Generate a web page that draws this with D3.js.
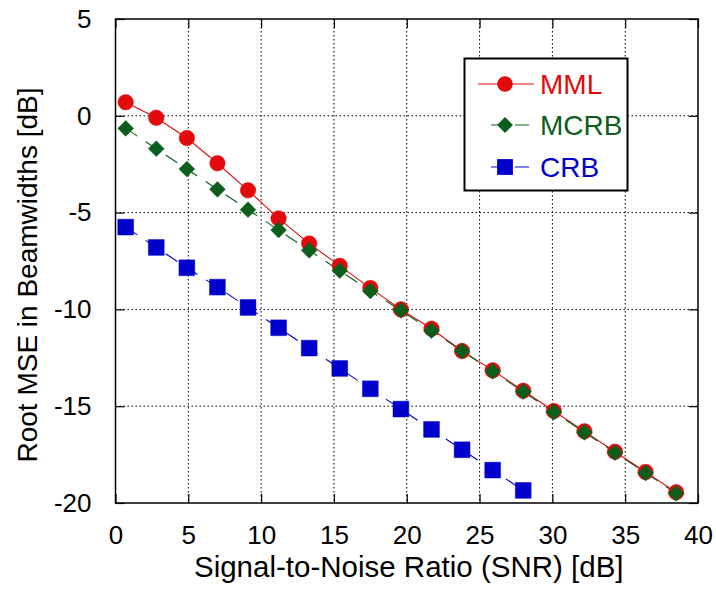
<!DOCTYPE html>
<html><head><meta charset="utf-8">
<script src="https://cdn.jsdelivr.net/npm/d3@7"></script>
<style>body{margin:0;background:#fff}svg{display:block}</style>
</head><body><svg id="c" width="716" height="590"></svg>
<script>
const snr  = [0.7, 2.8, 4.9, 7.0, 9.1, 11.2, 13.3, 15.4, 17.5, 19.6, 21.7, 23.8, 25.9, 28.0, 30.1, 32.2, 34.3, 36.4, 38.5];
const mml  = [0.7, -0.1, -1.15, -2.45, -3.85, -5.3, -6.6, -7.75, -8.9, -10.0, -11.0, -12.15, -13.15, -14.2, -15.25, -16.3, -17.35, -18.4, -19.45];
const mcrb = [-0.65, -1.7, -2.75, -3.8, -4.85, -5.9, -6.95, -8.0, -9.05, -10.05, -11.1, -12.15, -13.2, -14.25, -15.3, -16.35, -17.4, -18.45, -19.5];
const crbSnr = [0.7, 2.8, 4.9, 7.0, 9.1, 11.2, 13.3, 15.4, 17.5, 19.6, 21.7, 23.8, 25.9, 28.0];
const crb  = [-5.75, -6.8, -7.85, -8.85, -9.9, -10.95, -12.0, -13.05, -14.1, -15.15, -16.2, -17.25, -18.3, -19.35];
const xTicks = [0, 5, 10, 15, 20, 25, 30, 35, 40];
const yTicks = [5, 0, -5, -10, -15, -20];
const seriesNames = ["MML", "MCRB", "CRB"];
const seriesColors = ["#e20a0a", "#0b5e1b", "#0000cc"];

const svg = d3.select("#c");
const L = 115.5, R = 698, T = 19, B = 503;
const x = d3.scaleLinear().domain([0, 40]).range([L, R]);
const y = d3.scaleLinear().domain([-20, 5]).range([B, T]);
const FONT = "Liberation Sans, Arial, sans-serif";
const fmt = d => String(d);

// grid
const g = svg.append("g");
g.selectAll(".vg").data(xTicks.filter(d => d > 0 && d < 40)).enter().append("line")
  .attr("x1", d => x(d)).attr("x2", d => x(d)).attr("y1", T).attr("y2", B)
  .attr("stroke", "#000").attr("stroke-width", 1).attr("stroke-dasharray", "1.5,2.5");
g.selectAll(".hg").data(yTicks.filter(d => d > -20 && d < 5)).enter().append("line")
  .attr("y1", d => y(d)).attr("y2", d => y(d)).attr("x1", L).attr("x2", R)
  .attr("stroke", "#000").attr("stroke-width", 1).attr("stroke-dasharray", "1.5,2.5");

// axes
const tk = 9;
const xb = svg.append("g").attr("transform", `translate(0,${B})`)
  .call(d3.axisBottom(x).tickValues(xTicks).tickSize(-tk).tickPadding(tk + 14).tickFormat(fmt));
const xt = svg.append("g").attr("transform", `translate(0,${T})`)
  .call(d3.axisTop(x).tickValues(xTicks).tickSize(-tk).tickFormat(""));
const yl = svg.append("g").attr("transform", `translate(${L},0)`)
  .call(d3.axisLeft(y).tickValues(yTicks).tickSize(-tk).tickPadding(tk + 15).tickFormat(fmt));
const yr = svg.append("g").attr("transform", `translate(${R},0)`)
  .call(d3.axisRight(y).tickValues(yTicks).tickSize(-tk).tickFormat(""));
[xb, xt, yl, yr].forEach(a => {
  a.select(".domain").remove();
  a.selectAll("line").attr("stroke", "#000").attr("stroke-width", 1.2);
  a.selectAll("text").attr("font-family", FONT).attr("font-size", 26).attr("fill", "#000");
});
xb.selectAll("text").attr("dy", "0.71em");

// frame
svg.append("rect").attr("x", L).attr("y", T).attr("width", R - L).attr("height", B - T)
  .attr("fill", "none").attr("stroke", "#000").attr("stroke-width", 1.5);

// lines
const line = d3.line().x(d => x(d[0])).y(d => y(d[1]));
const mmlPts = snr.map((s, i) => [s, mml[i]]);
const mcrbPts = snr.map((s, i) => [s, mcrb[i]]);
const crbPts = crbSnr.map((s, i) => [s, crb[i]]);

const dashes = [null, "14,10", "14,10"];
const pts = [mmlPts, mcrbPts, crbPts];

const symT = [d3.symbolCircle, d3.symbolSquare, d3.symbolSquare];
const symSize = [190, 125, 250];
const symRot = [0, 45, 0];

pts.forEach((p, k) => {
  svg.append("path").datum(p).attr("d", line).attr("fill", "none")
    .attr("stroke", seriesColors[k]).attr("stroke-width", 1.1)
    .attr("stroke-dasharray", dashes[k]);
});
pts.forEach((p, k) => {
  svg.selectAll(".m" + k).data(p).enter().append("path")
    .attr("transform", d => `translate(${x(d[0])},${y(d[1])}) rotate(${symRot[k]})`)
    .attr("d", d3.symbol().type(symT[k]).size(symSize[k]))
    .attr("fill", seriesColors[k]).attr("stroke", seriesColors[k]).attr("stroke-width", 0.8)
    .attr("stroke-opacity", 0.6);
});

// legend
const lg = svg.append("g");
lg.append("rect").attr("x", 464.5).attr("y", 58.5).attr("width", 163).attr("height", 132)
  .attr("fill", "#fff").attr("stroke", "#000").attr("stroke-width", 2);
const rowsY = [84, 125, 167];
seriesNames.forEach((n, k) => {
  const yy = rowsY[k];
  lg.append("line").attr("x1", k === 0 ? 478 : 491).attr("x2", 534).attr("y1", yy).attr("y2", yy)
    .attr("stroke", seriesColors[k]).attr("stroke-width", 1.1)
    .attr("stroke-dasharray", k === 0 ? null : "14,10");
  lg.append("path").attr("transform", `translate(505,${yy}) rotate(${symRot[k]})`)
    .attr("d", d3.symbol().type(symT[k]).size(symSize[k]))
    .attr("fill", seriesColors[k]);
  lg.append("text").attr("x", 540).attr("y", yy + 10).text(n)
    .attr("font-family", FONT).attr("font-size", 28).attr("fill", seriesColors[k]);
});

// axis titles
svg.append("text").attr("x", (L + R) / 2 + 2).attr("y", 577).attr("text-anchor", "middle")
  .attr("font-family", FONT).attr("font-size", 29.5).attr("fill", "#000")
  .text("Signal-to-Noise Ratio (SNR) [dB]");
svg.append("text").attr("transform", `translate(37,${(T + B) / 2 + 14}) rotate(-90)`)
  .attr("text-anchor", "middle")
  .attr("font-family", FONT).attr("font-size", 28).attr("fill", "#000")
  .text("Root MSE in Beamwidths [dB]");
</script>
</body></html>
